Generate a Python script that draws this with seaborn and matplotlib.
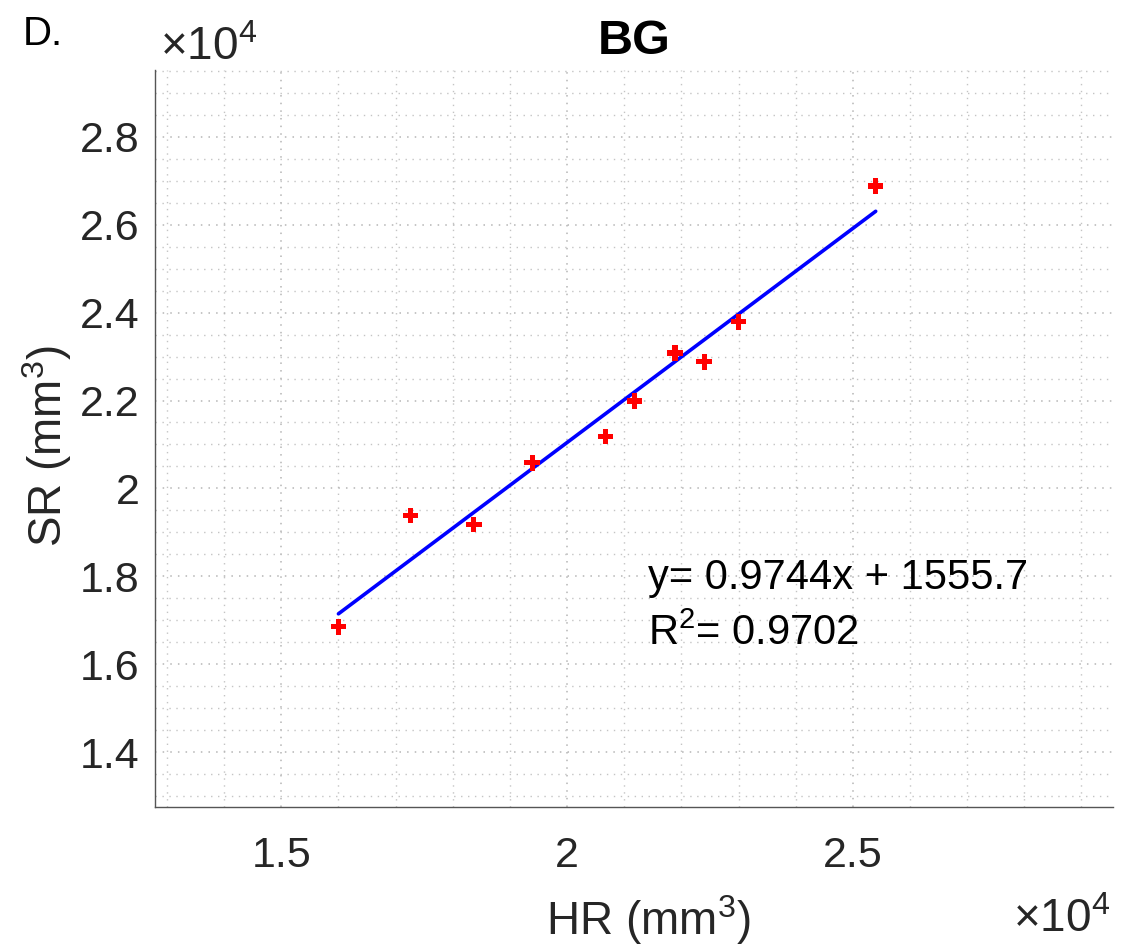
import numpy as np
import pandas as pd
import matplotlib
matplotlib.use("Agg")
import matplotlib.pyplot as plt
import seaborn as sns
from matplotlib.ticker import MultipleLocator, FuncFormatter

# volumes (mm^3)
hr = [16000, 17260, 18370, 19390, 20670, 21180, 21890, 22400, 23000, 25400]
sr = [16850, 19380, 19180, 20580, 21180, 21990, 23080, 22880, 23790, 26880]
slope = 0.9744
intercept = 1555.7
r2 = 0.9702

df = pd.DataFrame({"HR": hr, "SR": sr})
x_fit = np.array([min(hr), max(hr)])
df_fit = pd.DataFrame({"HR": x_fit, "SR": slope * x_fit + intercept})

sns.set_style("white")
plt.rcParams["font.family"] = ["Liberation Sans", "DejaVu Sans"]
plt.rcParams["mathtext.fontset"] = "custom"
plt.rcParams["mathtext.rm"] = "Liberation Sans"
plt.rcParams["mathtext.it"] = "Liberation Sans"

fig = plt.figure(figsize=(11.27, 9.5), dpi=100)
ax = fig.add_axes([0.1375, 0.1505, 0.8505, 0.7758])

sns.lineplot(data=df_fit, x="HR", y="SR", color="#0000ff", linewidth=2.6, ax=ax, zorder=3)
sns.scatterplot(data=df, x="HR", y="SR", marker="P", s=125, color="#ff0000",
                edgecolor="none", ax=ax, zorder=4)

ax.set_xlim(12790, 29560)
ax.set_ylim(12750, 29520)

ax.xaxis.set_major_locator(MultipleLocator(5000))
ax.xaxis.set_minor_locator(MultipleLocator(1000))
ax.yaxis.set_major_locator(MultipleLocator(2000))
ax.yaxis.set_minor_locator(MultipleLocator(500))
fmt = FuncFormatter(lambda v, p: f"{v / 1e4:g}")
ax.xaxis.set_major_formatter(fmt)
ax.yaxis.set_major_formatter(fmt)

dots = (0, (1, 4))
ax.grid(which="major", linestyle=dots, color="#b5b5b5", linewidth=1.1)
ax.grid(which="minor", linestyle=dots, color="#c4c4c4", linewidth=1.0)
ax.set_axisbelow(True)

for side in ["top", "right"]:
    ax.spines[side].set_visible(False)
for side in ["left", "bottom"]:
    ax.spines[side].set_color("#555555")
    ax.spines[side].set_linewidth(1.0)

ax.tick_params(which="major", direction="in", length=5, width=0.8, colors="#555555",
               labelsize=31, labelcolor="#262626")
ax.tick_params(which="minor", direction="in", length=3, width=0.6, colors="#555555")
ax.tick_params(axis="x", which="major", pad=21)
ax.tick_params(axis="y", which="major", pad=11)

ax.set_xlabel(r"HR (mm$^3$)", fontsize=33, color="#262626")
ax.set_ylabel(r"SR (mm$^3$)", fontsize=33, color="#262626")
ax.xaxis.set_label_coords(0.515, -0.117)
ax.yaxis.set_label_coords(-0.084, 0.49)

ax.text(0.5, 1.008, "BG", transform=ax.transAxes, ha="center", va="bottom",
        fontsize=35, fontweight="bold", color="black")
ax.text(0.005, 1.0, r"$\times10^{4}$", transform=ax.transAxes, ha="left", va="bottom",
        fontsize=33, color="#262626")
ax.text(0.997, -0.124, r"$\times10^{4}$", transform=ax.transAxes, ha="right", va="top",
        fontsize=33, color="#262626")
fig.text(0.02, 0.984, "D.", ha="left", va="top", fontsize=29, color="black")

ax.text(21420, 17950, f"y= {slope}x + {intercept}", ha="left", va="center",
        fontsize=30, color="black")
ax.text(21420, 16690, rf"R$^2$= {r2}", ha="left", va="center",
        fontsize=30, color="black")

fig.savefig("out.png", dpi=100)
